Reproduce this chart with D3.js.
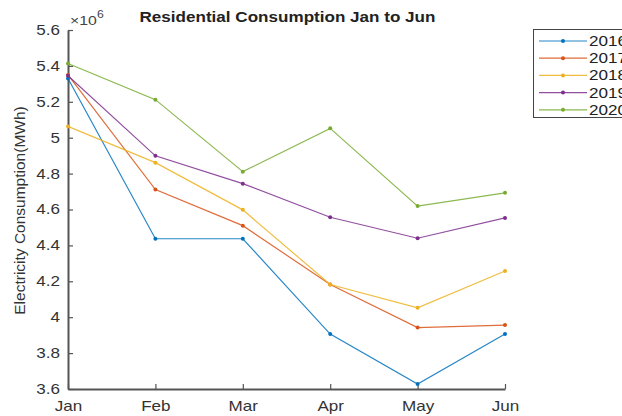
<!DOCTYPE html>
<html>
<head>
<meta charset="utf-8">
<script src="https://cdn.jsdelivr.net/npm/d3@7/dist/d3.min.js"></script>
<style>
  html, body { margin: 0; padding: 0; background: #fff; }
  svg { display: block; font-family: "Liberation Sans", Arial, Helvetica, sans-serif; }
</style>
</head>
<body>
<svg id="chart" width="622" height="416"></svg>
<script>
// Monthly residential electricity consumption (MWh), January to June
const months = ["Jan", "Feb", "Mar", "Apr", "May", "Jun"];
const years = ["2016", "2017", "2018", "2019", "2020"];
const v2016 = [5.330e6, 4.437e6, 4.437e6, 3.906e6, 3.628e6, 3.906e6];
const v2017 = [5.350e6, 4.711e6, 4.510e6, 4.182e6, 3.942e6, 3.956e6];
const v2018 = [5.063e6, 4.861e6, 4.598e6, 4.182e6, 4.052e6, 4.257e6];
const v2019 = [5.345e6, 4.899e6, 4.744e6, 4.557e6, 4.440e6, 4.553e6];
const v2020 = [5.413e6, 5.212e6, 4.811e6, 5.052e6, 4.619e6, 4.693e6];
const seriesValues = [v2016, v2017, v2018, v2019, v2020];
const colors = ["#0072BD", "#D95319", "#EDB120", "#7E2F8E", "#77AC30"];
const yTicks = [3.6, 3.8, 4, 4.2, 4.4, 4.6, 4.8, 5, 5.2, 5.4, 5.6];

const svg = d3.select("#chart");
const plotLeft = 68, plotRight = 505, plotTop = 30, plotBottom = 389;
const axisColor = "#555";
const wide = 1.22; // horizontal stretch applied to the upright labels

// Place a text at (px, py) with the horizontal stretch
function stretchedText(parent, px, py) {
  return parent.append("text").attr("transform", `translate(${px},${py}) scale(${wide},1)`);
}

const x = d3.scalePoint().domain(months).range([plotLeft, plotRight]);
const y = d3.scaleLinear().domain([3.6e6, 5.6e6]).range([plotBottom, plotTop]);

// Y axis (ticks pointing inward, values shown in units of 10^6)
const yAxis = d3.axisLeft(y)
  .tickValues(yTicks.map(t => t * 1e6))
  .tickSizeInner(-5).tickSizeOuter(0)
  .tickPadding(6.5)
  .tickFormat(d => d3.format("~g")(+(d / 1e6).toFixed(1)));
const gy = svg.append("g").attr("transform", `translate(${plotLeft},0)`).call(yAxis);

// X axis
const xAxis = d3.axisBottom(x).tickSizeInner(-5).tickSizeOuter(0).tickPadding(10);
const gx = svg.append("g").attr("transform", `translate(0,${plotBottom})`).call(xAxis);

[gx, gy].forEach(g => {
  g.select(".domain").attr("stroke", axisColor).attr("stroke-width", 2);
  g.selectAll(".tick line").attr("stroke", axisColor).attr("stroke-width", 1.2);
  g.selectAll(".tick text").attr("fill", "#333").style("font-size", "14px")
    .attr("transform", `scale(${wide},1)`);
});
gx.selectAll(".tick text").attr("dy", "0.85em");

// Exponent marker above the y axis
const expo = stretchedText(svg, plotLeft + 2, 25).attr("fill", "#444").style("font-size", "13px");
expo.append("tspan").text("\u00d710");
expo.append("tspan").attr("dy", -7).style("font-size", "10px").text("6");

// Title
stretchedText(svg, (plotLeft + plotRight) / 2 + 1, 22)
  .attr("text-anchor", "middle").attr("font-weight", "bold")
  .attr("fill", "#222").style("font-size", "14px")
  .text("Residential Consumption Jan to Jun");

// Y axis label
svg.append("text")
  .attr("transform", `translate(25,${(plotTop + plotBottom) / 2 + 1}) rotate(-90)`)
  .attr("text-anchor", "middle").attr("fill", "#333").style("font-size", "15.5px")
  .text("Electricity Consumption(MWh)");

// Series lines and point markers
const line = d3.line().x((d, i) => x(months[i])).y(d => y(d));
seriesValues.forEach((vals, k) => {
  svg.append("path").datum(vals).attr("d", line)
    .attr("fill", "none").attr("stroke", colors[k]).attr("stroke-width", 1.2)
    .attr("stroke-opacity", 0.85);
  svg.append("g").selectAll("circle").data(vals).join("circle")
    .attr("cx", (d, i) => x(months[i])).attr("cy", d => y(d))
    .attr("r", 2).attr("fill", colors[k]);
});

// Legend
const lg = svg.append("g");
lg.append("rect").attr("x", 533.5).attr("y", 29.5).attr("width", 100).attr("height", 88)
  .attr("fill", "#fff").attr("stroke", "#444").attr("stroke-width", 1);
years.forEach((yr, k) => {
  const ly = 41 + k * 17.2;
  lg.append("line").attr("x1", 539).attr("x2", 587).attr("y1", ly).attr("y2", ly)
    .attr("stroke", colors[k]).attr("stroke-width", 1.2).attr("stroke-opacity", 0.85);
  lg.append("circle").attr("cx", 563).attr("cy", ly).attr("r", 2).attr("fill", colors[k]);
  stretchedText(lg, 589, ly).attr("dy", "0.35em")
    .attr("fill", "#222").style("font-size", "14px").text(yr);
});
</script>
</body>
</html>
